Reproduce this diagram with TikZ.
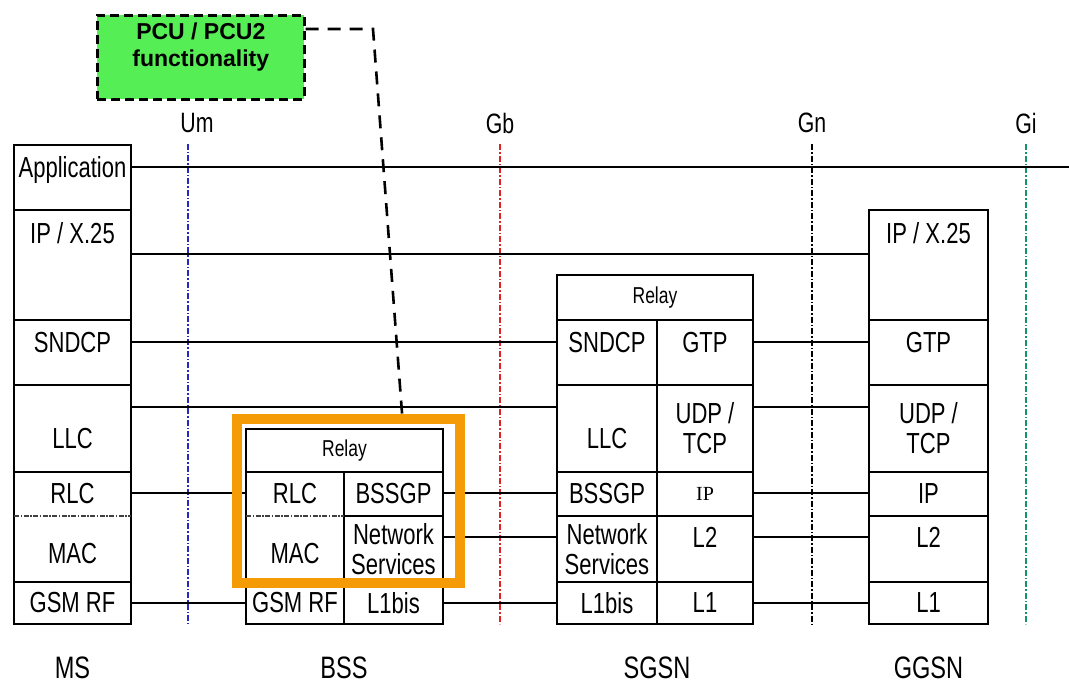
\documentclass[tikz,border=0pt]{standalone}
\usepackage{fontspec}
\setmainfont{Liberation Sans}
\newfontfamily\condfont[FakeStretch=0.76]{Liberation Sans}
\newfontfamily\timesfont{Liberation Serif}
\usepackage{xcolor}
\usepackage{tikz}
\usetikzlibrary{positioning,calc}

\definecolor{pcuorange}{RGB}{245,155,5}
\definecolor{pcugreen}{RGB}{85,238,85}
\definecolor{umblue}{RGB}{40,40,190}
\definecolor{gbred}{RGB}{225,35,35}
\definecolor{gigreen}{RGB}{20,150,100}

\begin{document}
\begin{tikzpicture}[
  x=1pt, y=-1pt,
  cell/.style={draw, line width=2.4pt, inner sep=0pt, outer sep=0pt, align=center, font=\condfont\fontsize{29}{30}\selectfont},
  open/.style={draw=none},
  relay/.style={font=\condfont\fontsize{23}{24}\selectfont},
  lift/.style={text height=21pt, text depth=#1},
  sink/.style={text height=#1, text depth=6pt},
  frame/.style={line width=2.4pt},
  split/.style={line width=1.4pt, draw=black!75, dash pattern=on 5pt off 1.5pt on 1.5pt off 1.5pt},
  link/.style={line width=1.8pt},
  thin link/.style={line width=1.2pt},
  iface/.style={line width=1.4pt, dash pattern=on 6pt off 2pt on 1.5pt off 2pt},
  iflabel/.style={font=\condfont\fontsize{28}{30}\selectfont, inner sep=2pt},
  site/.style={font=\condfont\fontsize{31}{33}\selectfont, inner sep=2pt, outer sep=0pt},
  note/.style={draw, fill=pcugreen, line width=2.6pt, dash pattern=on 9pt off 5pt, align=center, inner sep=0pt, font=\bfseries\fontsize{23}{27}\selectfont},
  pcu box/.style={draw=pcuorange, line width=10pt, outer sep=5pt},
  pcu link/.style={line width=2.6pt, dash pattern=on 13pt off 9pt}
]
\useasboundingbox (0,0) rectangle (1069,685);

% MS
\node[cell, anchor=north west, minimum width=117pt, minimum height=65pt, lift=21pt] (ms-app) at (14,145) {Application};
\node[cell, below=0pt of ms-app, minimum width=117pt, minimum height=110pt, lift=64pt] (ms-ip) {IP / X.25};
\node[cell, below=0pt of ms-ip, minimum width=117pt, minimum height=65pt, lift=21pt] (ms-sndcp) {SNDCP};
\node[cell, below=0pt of ms-sndcp, minimum width=117pt, minimum height=87pt, sink=46pt] (ms-llc) {LLC};
\node[cell, open, below=0pt of ms-llc, minimum width=117pt, minimum height=44pt] (ms-rlc) {RLC};
\node[cell, open, below=0pt of ms-rlc, minimum width=117pt, minimum height=66pt, sink=35pt] (ms-mac) {MAC};
\node[cell, below=0pt of ms-mac, minimum width=117pt, minimum height=42pt] (ms-rf) {GSM RF};
\draw[frame] (ms-rlc.north west) rectangle (ms-mac.south east);
\draw[split] (ms-rlc.south west) -- (ms-rlc.south east);

% BSS
\node[cell, relay, anchor=north west, minimum width=197pt, minimum height=43pt] (bss-relay) at (246,429) {Relay};
\node[cell, open, anchor=north west, minimum width=98pt, minimum height=44pt] (bss-rlc) at (bss-relay.south west) {RLC};
\node[cell, anchor=north east, minimum width=99pt, minimum height=44pt] (bss-bssgp) at (bss-relay.south east) {BSSGP};
\node[cell, open, below=0pt of bss-rlc, minimum width=98pt, minimum height=66pt, sink=35pt] (bss-mac) {MAC};
\node[cell, below=0pt of bss-bssgp, minimum width=99pt, minimum height=66pt] (bss-ns) {Network\\Services};
\node[cell, below=0pt of bss-mac, minimum width=98pt, minimum height=42pt] (bss-rf) {GSM RF};
\node[cell, below=0pt of bss-ns, minimum width=99pt, minimum height=42pt] (bss-l1) {L1bis};
\draw[frame] (bss-rlc.north west) rectangle (bss-mac.south east);
\draw[split] (bss-rlc.south west) -- (bss-rlc.south east);

% SGSN
\node[cell, relay, anchor=north west, minimum width=196pt, minimum height=45pt] (sgsn-relay) at (557,275) {Relay};
\node[cell, anchor=north west, minimum width=100pt, minimum height=65pt, lift=21pt] (sgsn-sndcp) at (sgsn-relay.south west) {SNDCP};
\node[cell, below=0pt of sgsn-sndcp, minimum width=100pt, minimum height=87pt, sink=46pt] (sgsn-llc) {LLC};
\node[cell, below=0pt of sgsn-llc, minimum width=100pt, minimum height=44pt] (sgsn-bssgp) {BSSGP};
\node[cell, below=0pt of sgsn-bssgp, minimum width=100pt, minimum height=66pt] (sgsn-ns) {Network\\Services};
\node[cell, below=0pt of sgsn-ns, minimum width=100pt, minimum height=42pt] (sgsn-l1bis) {L1bis};
\node[cell, anchor=north east, minimum width=96pt, minimum height=65pt, lift=21pt] (sgsn-gtp) at (sgsn-relay.south east) {GTP};
\node[cell, below=0pt of sgsn-gtp, minimum width=96pt, minimum height=87pt] (sgsn-udp) {UDP /\\TCP};
\node[cell, below=0pt of sgsn-udp, minimum width=96pt, minimum height=44pt, font=\timesfont\fontsize{20}{22}\selectfont] (sgsn-ip) {IP};
\node[cell, below=0pt of sgsn-ip, minimum width=96pt, minimum height=66pt, lift=24pt] (sgsn-l2) {L2};
\node[cell, below=0pt of sgsn-l2, minimum width=96pt, minimum height=42pt] (sgsn-l1) {L1};

% GGSN
\node[cell, anchor=north west, minimum width=119pt, minimum height=110pt, lift=64pt] (ggsn-ipx) at (869,210) {IP / X.25};
\node[cell, below=0pt of ggsn-ipx, minimum width=119pt, minimum height=65pt, lift=21pt] (ggsn-gtp) {GTP};
\node[cell, below=0pt of ggsn-gtp, minimum width=119pt, minimum height=87pt] (ggsn-udp) {UDP /\\TCP};
\node[cell, below=0pt of ggsn-udp, minimum width=119pt, minimum height=44pt] (ggsn-ip) {IP};
\node[cell, below=0pt of ggsn-ip, minimum width=119pt, minimum height=66pt, lift=24pt] (ggsn-l2) {L2};
\node[cell, below=0pt of ggsn-l2, minimum width=119pt, minimum height=42pt] (ggsn-l1) {L1};

% site names
\node[site, below=31pt of ms-rf] (ms) {MS};
\node[site, below=31pt of bss-rf.south east] (bss) {BSS};
\node[site, below=31pt of sgsn-l1bis.south east] (sgsn) {SGSN};
\node[site, below=31pt of ggsn-l1] (ggsn) {GGSN};

% interfaces
\node[iflabel] (um) at (197,123) {Um};
\node[iflabel] (gb) at (500,123) {Gb};
\node[iflabel] (gn) at (812,123) {Gn};
\node[iflabel] (gi) at (1026,123) {Gi};
\draw[iface, draw=umblue] ([xshift=-9pt,yshift=-9pt]um.south) -- ([xshift=-9pt]um.south |- ms-rf.south);
\draw[iface, draw=gbred] ([yshift=-9pt]gb.south) -- (gb.south |- ms-rf.south);
\draw[iface] ([yshift=-9pt]gn.south) -- (gn.south |- ms-rf.south);
\draw[iface, draw=gigreen] ([yshift=-9pt]gi.south) -- (gi.south |- ms-rf.south);

% peer layers
\coordinate (lvl-app) at (0,167);
\coordinate (lvl-ip) at (0,254);
\coordinate (lvl-sndcp) at (0,342);
\coordinate (lvl-llc) at (0,407);
\coordinate (lvl-rlc) at (0,493);
\coordinate (lvl-ns) at (0,537);
\coordinate (lvl-rf) at (0,603);
\coordinate (app-end) at (1069,167);
\draw[link] (ms-app.east |- lvl-app) -- (app-end);
\draw[link] (ms-ip.east |- lvl-ip) -- (ggsn-ipx.west |- lvl-ip);
\draw[thin link] (ms-sndcp.east |- lvl-sndcp) -- (sgsn-sndcp.west |- lvl-sndcp);
\draw[link] (ms-llc.east |- lvl-llc) -- (sgsn-llc.west |- lvl-llc);
\draw[link] (ms-rlc.east |- lvl-rlc) -- (bss-rlc.west |- lvl-rlc);
\draw[link] (ms-rf.east |- lvl-rf) -- (bss-rf.west |- lvl-rf);
\draw[link] (bss-bssgp.east |- lvl-rlc) -- (sgsn-bssgp.west |- lvl-rlc);
\draw[link] (bss-ns.east |- lvl-ns) -- (sgsn-ns.west |- lvl-ns);
\draw[link] (bss-l1.east |- lvl-rf) -- (sgsn-l1bis.west |- lvl-rf);
\draw[thin link] (sgsn-gtp.east |- lvl-sndcp) -- (ggsn-gtp.west |- lvl-sndcp);
\draw[link] (sgsn-udp.east |- lvl-llc) -- (ggsn-udp.west |- lvl-llc);
\draw[link] (sgsn-ip.east |- lvl-rlc) -- (ggsn-ip.west |- lvl-rlc);
\draw[link] (sgsn-l2.east |- lvl-ns) -- (ggsn-l2.west |- lvl-ns);
\draw[link] (sgsn-l1.east |- lvl-rf) -- (ggsn-l1.west |- lvl-rf);

% PCU
\node[pcu box, anchor=north west, minimum width=223pt, minimum height=164pt] (pcu-frame) at (232,414) {};
\node[note, anchor=north west, minimum width=207pt, minimum height=84pt, text height=43pt, text depth=25pt] (pcu-note) at (96,14) {PCU / PCU2\\functionality};
\coordinate (bend) at (373,29);
\draw[pcu link] (pcu-note.east |- bend) -- (bend) -- ($(pcu-frame.north west)!0.73!(pcu-frame.north east)$);
\end{tikzpicture}
\end{document}
